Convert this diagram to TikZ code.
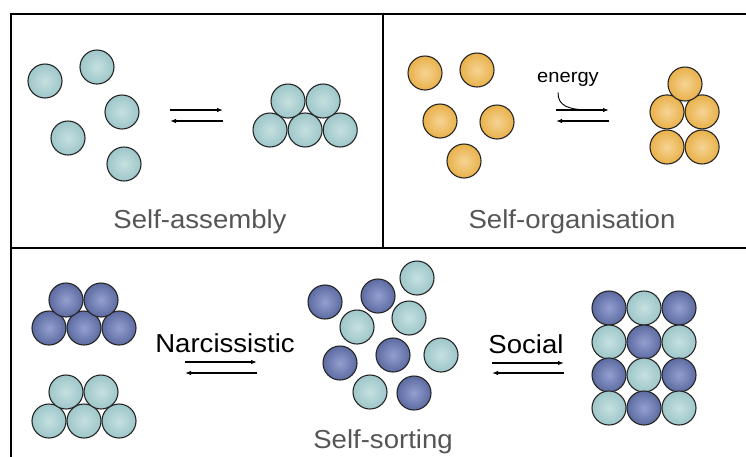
\documentclass[tikz,border=0pt]{standalone}
\usepackage{fontspec}
\setmainfont{Liberation Sans}[FakeStretch=1.06]
\usetikzlibrary{arrows.meta, positioning}
\definecolor{EdgeDark}{HTML}{262626}
\definecolor{CaptionGrey}{HTML}{555555}
\definecolor{LightIn}{HTML}{C6E0E0}
\definecolor{LightOut}{HTML}{7FB3B8}
\definecolor{DarkIn}{HTML}{949FCF}
\definecolor{DarkOut}{HTML}{32437F}
\definecolor{GoldIn}{HTML}{F6D494}
\definecolor{GoldOut}{HTML}{DE9612}
\pgfdeclareradialshading{lightball}{\pgfpoint{0bp}{0bp}}{color(0bp)=(LightIn); color(44bp)=(LightOut); color(50bp)=(LightOut)}
\pgfdeclareradialshading{darkball}{\pgfpoint{0bp}{0bp}}{color(0bp)=(DarkIn); color(44bp)=(DarkOut); color(50bp)=(DarkOut)}
\pgfdeclareradialshading{goldball}{\pgfpoint{0bp}{0bp}}{color(0bp)=(GoldIn); color(44bp)=(GoldOut); color(50bp)=(GoldOut)}

\begin{document}
\begin{tikzpicture}[
        x=1pt, y=-1pt,
        frame/.style={draw=black, line width=1.6pt},
        ball/.style={circle, draw=EdgeDark, line width=1.1pt, minimum size=34pt, inner sep=0pt},
        light/.style={ball, shading=lightball},
        dark/.style={ball, shading=darkball},
        gold/.style={ball, shading=goldball},
        caption/.style={anchor=base, text=CaptionGrey, font=\fontsize{26}{30}\selectfont},
        tag/.style={anchor=base, text=black, font=\fontsize{26}{30}\selectfont},
        eq/.style={-{Latex[length=6pt, width=4.5pt]}, line width=1.2pt}
      ]
        \useasboundingbox (0,0) rectangle (746,456);
        \clip (0,0) rectangle (746,456);

        % Panels
        \draw[frame] (11,14) rectangle (780,490);
        \draw[frame] (11,248) -- (780,248);
        \draw[frame] (383,14) -- (383,248);

        % Self-assembly: free balls and the assembled cluster
        \foreach \n/\x/\y in {1/45/81, 2/97/67, 3/122/112, 4/68/138, 5/124/164}
          \node[light] (sa\n) at (\x,\y) {};
        \node[light] (sb1) at (270,130) {};
        \node[light, right=0pt of sb1] (sb2) {};
        \node[light, right=0pt of sb2] (sb3) {};
        \node[light] (sb4) at (288,101) {};
        \node[light, right=0pt of sb4] (sb5) {};

        \coordinate (saL1) at (170,110); \coordinate (saR1) at (223,110);
        \coordinate (saL2) at (170,121); \coordinate (saR2) at (223,121);
        \draw[eq] (saL1) -- (saR1);
        \draw[eq] (saR2) -- (saL2);
        \node[caption] (assembly) at (200,228) {Self-assembly};

        % Self-organisation: free balls, energy input and the stacked cluster
        \foreach \n/\x/\y in {1/425/73, 2/477/70, 3/440/121, 4/497/122, 5/464/161}
          \node[gold] (so\n) at (\x,\y) {};
        \node[gold] (sc1) at (667,147) {};
        \node[gold, right=0pt of sc1] (sc2) {};
        \node[gold, above=0pt of sc1] (sc3) {};
        \node[gold, right=0pt of sc3] (sc4) {};
        \node[gold] (sc5) at (685,84) {};

        \coordinate (soL1) at (556,110); \coordinate (soR1) at (609,110);
        \coordinate (soL2) at (556,121); \coordinate (soR2) at (609,121);
        \coordinate (soJoin) at (592,110);
        \draw[eq] (soL1) -- (soR1);
        \draw[eq] (soR2) -- (soL2);
        \node[anchor=base, font=\fontsize{19}{22}\selectfont] (energy) at (568,82) {energy};
        \draw[line width=0.9pt] ([xshift=-10pt, yshift=-3pt]energy.south) .. controls (558,106) and (568,110) .. (soJoin);
        \node[caption] (organisation) at (572,228) {Self-organisation};

        % Self-sorting: narcissistic clusters, mixture and social grid
        \foreach \n/\x/\y in {1/49/328, 2/84/328, 3/119/328, 4/66/300, 5/101/300}
          \node[dark] (nd\n) at (\x,\y) {};
        \foreach \n/\x/\y in {1/49/421, 2/84/421, 3/119/421, 4/66/392, 5/101/392}
          \node[light] (nl\n) at (\x,\y) {};

        \foreach \n/\x/\y in {1/325/302, 2/378/296, 3/340/363, 4/393/355, 5/414/393}
          \node[dark] (md\n) at (\x,\y) {};
        \foreach \n/\x/\y in {1/417/278, 2/357/327, 3/409/318, 4/441/355, 5/370/392}
          \node[light] (ml\n) at (\x,\y) {};

        \foreach \r/\y in {1/308, 2/342, 3/375, 4/408}
          \foreach \c/\x in {1/609, 2/644, 3/679} {
            \pgfmathtruncatemacro{\odd}{mod(\r+\c,2)}
            \ifnum\odd=0
              \node[dark] (g\r\c) at (\x,\y) {};
            \else
              \node[light] (g\r\c) at (\x,\y) {};
            \fi
          }

        \coordinate (nL1) at (185,362); \coordinate (nR1) at (257,362);
        \coordinate (nL2) at (185,373); \coordinate (nR2) at (257,373);
        \draw[eq] (nL1) -- (nR1);
        \draw[eq] (nR2) -- (nL2);
        \node[tag] (narcissistic) at (225,352) {Narcissistic};

        \coordinate (sL1) at (492,363); \coordinate (sR1) at (564,363);
        \coordinate (sL2) at (492,373); \coordinate (sR2) at (564,373);
        \draw[eq] (sL1) -- (sR1);
        \draw[eq] (sR2) -- (sL2);
        \node[tag] (social) at (526,353) {Social};

        \node[caption] (sorting) at (383,448) {Self-sorting};
      \end{tikzpicture}
\end{document}
